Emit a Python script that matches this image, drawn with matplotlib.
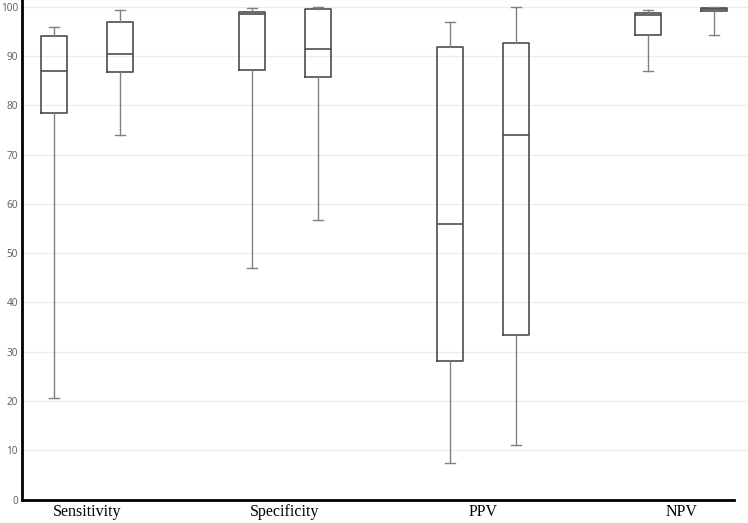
import matplotlib
matplotlib.use("Agg")
import matplotlib.pyplot as plt

categories = ["Sensitivity", "Specificity", "PPV", "NPV"]
# each category has two boxes: (whislo, q1, med, q3, whishi)
box_a_whislo = [20.6, 47.0, 7.5, 87.0]
box_a_q1     = [78.5, 87.2, 28.2, 94.3]
box_a_med    = [87.0, 98.5, 56.0, 98.3]
box_a_q3     = [94.0, 99.0, 91.8, 98.8]
box_a_whishi = [96.0, 99.7, 97.0, 99.4]

box_b_whislo = [74.0, 56.8, 11.0, 94.3]
box_b_q1     = [86.7, 85.8, 33.4, 99.2]
box_b_med    = [90.4, 91.4, 73.9, 99.6]
box_b_q3     = [97.0, 99.5, 92.6, 99.8]
box_b_whishi = [99.3, 99.9, 99.9, 99.9]

yticks = list(range(0, 101, 10))

fig = plt.figure(figsize=(7.48, 5.23), dpi=100)
ax = fig.add_axes([22/748, 1 - 499.5/523, (748-22)/748, 499.5/523])

stats = []
positions = []
for i in range(len(categories)):
    stats.append(dict(whislo=box_a_whislo[i], q1=box_a_q1[i], med=box_a_med[i],
                      q3=box_a_q3[i], whishi=box_a_whishi[i], fliers=[]))
    positions.append(i - 0.1667)
    stats.append(dict(whislo=box_b_whislo[i], q1=box_b_q1[i], med=box_b_med[i],
                      q3=box_b_q3[i], whishi=box_b_whishi[i], fliers=[]))
    positions.append(i + 0.1667)

ax.bxp(stats, positions=positions, widths=0.131, capwidths=0.05, showfliers=False,
       boxprops=dict(color="#4d4d4d", linewidth=1.2),
       medianprops=dict(color="#4d4d4d", linewidth=1.2),
       whiskerprops=dict(color="#808080", linewidth=1.0),
       capprops=dict(color="#808080", linewidth=1.0),
       manage_ticks=False, zorder=3)

ax.set_xlim(-0.328, 3.338)
ax.set_ylim(0, 101.4)
ax.set_yticks(yticks)
ax.set_yticklabels([str(t) for t in yticks], fontsize=7.2, color="#595959",
                   family=["Open Sans", "DejaVu Sans"])
ax.set_xticks(range(len(categories)))
ax.set_xticklabels(categories, fontsize=11.5, family=["Liberation Serif"], color="black")
ax.tick_params(axis="both", length=0)
ax.tick_params(axis="y", pad=3)
ax.tick_params(axis="x", pad=3)

ax.grid(axis="y", color="#ececec", linewidth=0.8, zorder=0)
ax.set_axisbelow(True)
for s in ["top", "right"]:
    ax.spines[s].set_visible(False)
for s in ["left", "bottom"]:
    ax.spines[s].set_color("black")
    ax.spines[s].set_linewidth(2)
ax.spines["bottom"].set_bounds(-0.328, (734 - 87) / 198)

fig.savefig("out.png", dpi=100)
